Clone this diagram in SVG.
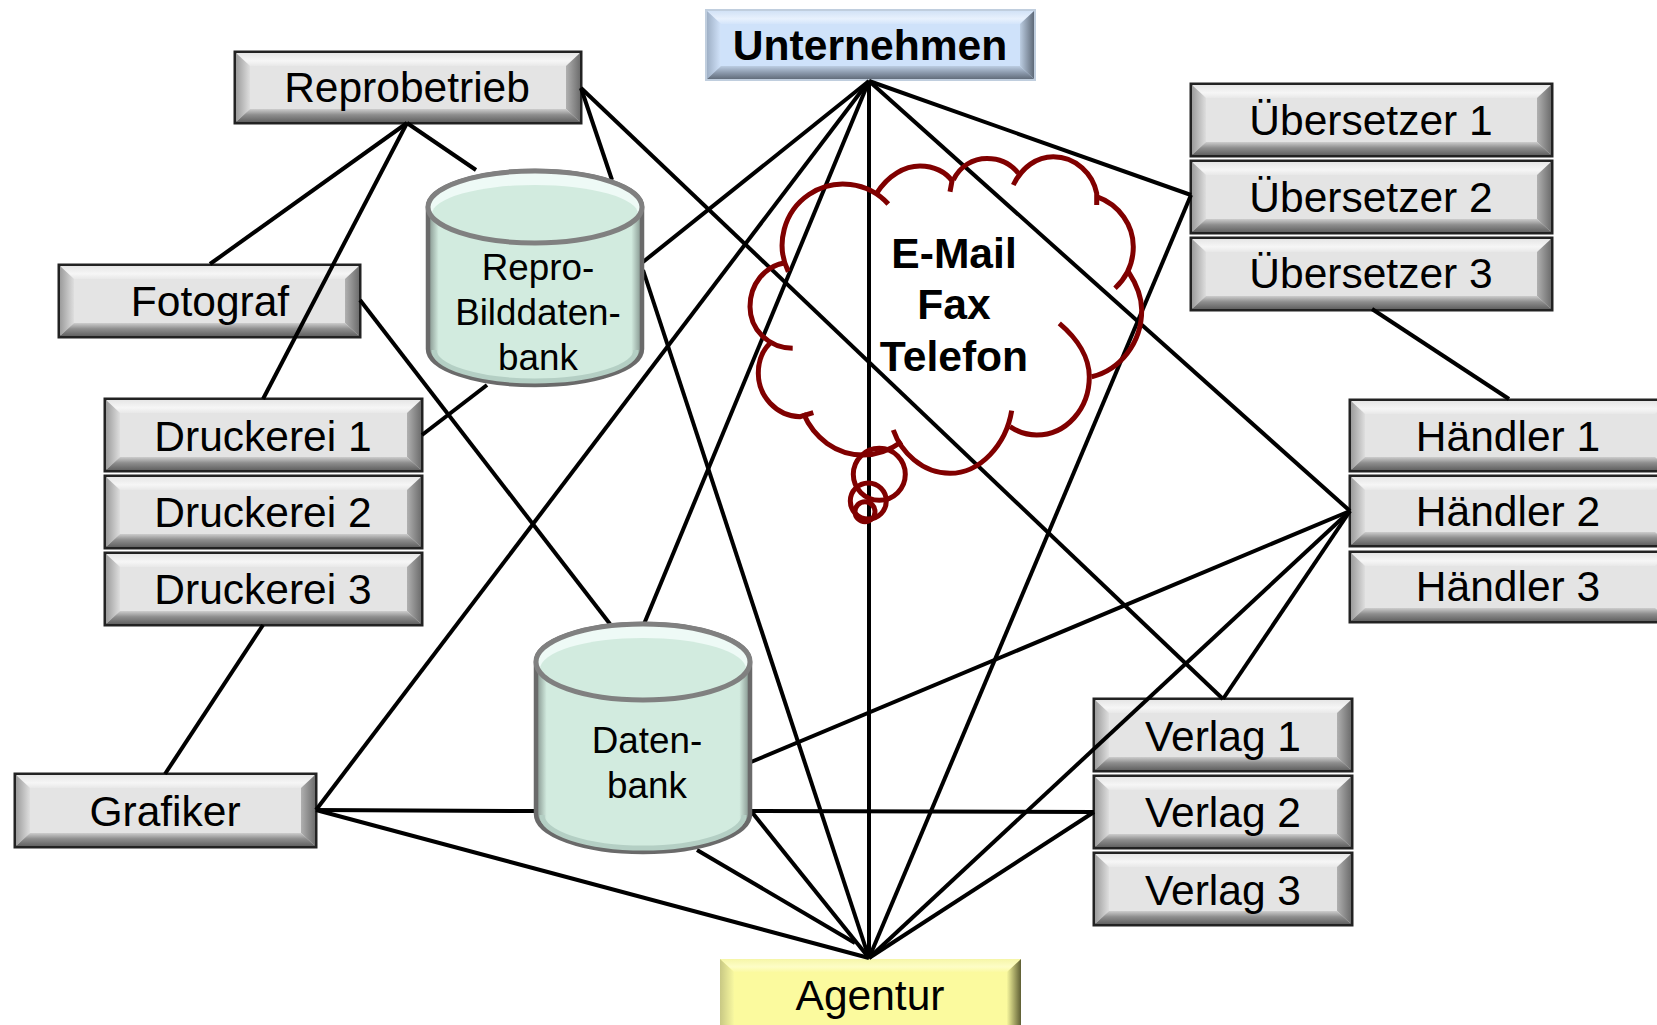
<svg xmlns="http://www.w3.org/2000/svg" width="1657" height="1025" viewBox="0 0 1657 1025">
<style>
text{font-family:"Liberation Sans",Arial,sans-serif;text-anchor:middle;fill:#000}
.t{font-size:42.5px}
.b{font-size:42.6px;font-weight:bold}
.c{font-size:36.8px}
.edge{stroke:#000;stroke-width:4;fill:none}
.cloud{stroke:#800000;stroke-width:5;fill:none}
.bd{stroke:#222;stroke-width:3;fill:#e4e4e4}
.g1{fill:url(#gt)}.g2{fill:url(#gl)}.g3{fill:url(#gr)}.g4{fill:url(#gb)}
.u0{fill:#cfe2fa;stroke:#c0cede;stroke-width:2}.u1{fill:url(#ut)}.u2{fill:url(#ul)}.u3{fill:url(#ur)}.u4{fill:url(#ub)}
.y0{fill:#fbfa9e}.y1{fill:url(#yt)}.y2{fill:url(#yl)}.y3{fill:url(#yr)}
.cy{fill:url(#cyl);stroke:#6a6a6a;stroke-width:4.5}
.ct{fill:#eefaf6}.cn{fill:#d2ebdf}.co{fill:none;stroke:#808080;stroke-width:5}
.cs{fill:none;stroke:#b4cfc4;stroke-width:5}
</style>
<defs>
<linearGradient id="gt" x1="0" x2="0" y1="0" y2="1"><stop offset="0" stop-color="#e6e6e6"/><stop offset=".6" stop-color="#f6f6f6"/><stop offset="1" stop-color="#e8e8e8"/></linearGradient>
<linearGradient id="gl" x1="0" x2="1" y1="0" y2="0"><stop offset="0" stop-color="#9c9c9c"/><stop offset="1" stop-color="#dedede"/></linearGradient>
<linearGradient id="gr" x1="0" x2="1" y1="0" y2="0"><stop offset="0" stop-color="#b0b0b0"/><stop offset="1" stop-color="#6e6e6e"/></linearGradient>
<linearGradient id="gb" x1="0" x2="0" y1="0" y2="1"><stop offset="0" stop-color="#cdcdcd"/><stop offset=".45" stop-color="#8e8e8e"/><stop offset="1" stop-color="#626262"/></linearGradient>
<linearGradient id="ut" x1="0" x2="0" y1="0" y2="1"><stop offset="0" stop-color="#d2e2f6"/><stop offset=".6" stop-color="#e8f1fd"/><stop offset="1" stop-color="#d4e5fb"/></linearGradient>
<linearGradient id="ul" x1="0" x2="1" y1="0" y2="0"><stop offset="0" stop-color="#9fb0c6"/><stop offset="1" stop-color="#d2e4fb"/></linearGradient>
<linearGradient id="ur" x1="0" x2="1" y1="0" y2="0"><stop offset="0" stop-color="#bccde2"/><stop offset="1" stop-color="#5f6a78"/></linearGradient>
<linearGradient id="ub" x1="0" x2="0" y1="0" y2="1"><stop offset="0" stop-color="#bccde2"/><stop offset=".5" stop-color="#8d9bae"/><stop offset="1" stop-color="#626d7b"/></linearGradient>
<linearGradient id="yt" x1="0" x2="0" y1="0" y2="1"><stop offset="0" stop-color="#f6f6a8"/><stop offset=".6" stop-color="#fdfdc6"/><stop offset="1" stop-color="#fbfaa2"/></linearGradient>
<linearGradient id="yl" x1="0" x2="1" y1="0" y2="0"><stop offset="0" stop-color="#c8c884"/><stop offset="1" stop-color="#f8f8a0"/></linearGradient>
<linearGradient id="yr" x1="0" x2="1" y1="0" y2="0"><stop offset="0" stop-color="#f6f69c"/><stop offset="1" stop-color="#5e5e34"/></linearGradient>
<linearGradient id="cyl" x1="0" x2="1" y1="0" y2="0"><stop offset="0" stop-color="#7f8e88"/><stop offset=".05" stop-color="#d2ebdf"/><stop offset=".95" stop-color="#d2ebdf"/><stop offset="1" stop-color="#7f8e88"/></linearGradient>
</defs>
<rect width="1657" height="1025" fill="#fff"/>

<g id="n-reprobetrieb"><rect class="bd" x="235" y="52" width="346" height="71"/><polygon class="g1" points="236,53 580,53 566,66 250,66"/><polygon class="g2" points="236,53 250,66 250,109 236,122"/><polygon class="g3" points="580,53 566,66 566,109 580,122"/><polygon class="g4" points="236,122 250,109 566,109 580,122"/><text class="t" x="407" y="102">Reprobetrieb</text></g>
<g id="n-unternehmen"><rect class="u0" x="706" y="10" width="329" height="70"/><polygon class="u1" points="707,11 1034,11 1020,24 721,24"/><polygon class="u2" points="707,11 721,24 721,66 707,79"/><polygon class="u3" points="1034,11 1020,24 1020,66 1034,79"/><polygon class="u4" points="707,79 721,66 1020,66 1034,79"/><text class="b" x="870" y="60">Unternehmen</text></g>
<g id="n-uebersetzer1"><rect class="bd" x="1191" y="84" width="361" height="72"/><polygon class="g1" points="1192,85 1551,85 1537,98 1206,98"/><polygon class="g2" points="1192,85 1206,98 1206,142 1192,155"/><polygon class="g3" points="1551,85 1537,98 1537,142 1551,155"/><polygon class="g4" points="1192,155 1206,142 1537,142 1551,155"/><text class="t" x="1371" y="135">Übersetzer 1</text></g>
<g id="n-uebersetzer2"><rect class="bd" x="1191" y="161" width="361" height="72"/><polygon class="g1" points="1192,162 1551,162 1537,175 1206,175"/><polygon class="g2" points="1192,162 1206,175 1206,219 1192,232"/><polygon class="g3" points="1551,162 1537,175 1537,219 1551,232"/><polygon class="g4" points="1192,232 1206,219 1537,219 1551,232"/><text class="t" x="1371" y="212">Übersetzer 2</text></g>
<g id="n-uebersetzer3"><rect class="bd" x="1191" y="238" width="361" height="72"/><polygon class="g1" points="1192,239 1551,239 1537,252 1206,252"/><polygon class="g2" points="1192,239 1206,252 1206,296 1192,309"/><polygon class="g3" points="1551,239 1537,252 1537,296 1551,309"/><polygon class="g4" points="1192,309 1206,296 1537,296 1551,309"/><text class="t" x="1371" y="288">Übersetzer 3</text></g>
<g id="n-fotograf"><rect class="bd" x="59" y="265" width="301" height="72"/><polygon class="g1" points="60,266 359,266 345,279 74,279"/><polygon class="g2" points="60,266 74,279 74,323 60,336"/><polygon class="g3" points="359,266 345,279 345,323 359,336"/><polygon class="g4" points="60,336 74,323 345,323 359,336"/><text class="t" x="210" y="316">Fotograf</text></g>
<g id="n-druckerei1"><rect class="bd" x="105" y="399" width="317" height="72"/><polygon class="g1" points="106,400 421,400 407,413 120,413"/><polygon class="g2" points="106,400 120,413 120,457 106,470"/><polygon class="g3" points="421,400 407,413 407,457 421,470"/><polygon class="g4" points="106,470 120,457 407,457 421,470"/><text class="t" x="263" y="451">Druckerei 1</text></g>
<g id="n-druckerei2"><rect class="bd" x="105" y="476" width="317" height="72"/><polygon class="g1" points="106,477 421,477 407,490 120,490"/><polygon class="g2" points="106,477 120,490 120,534 106,547"/><polygon class="g3" points="421,477 407,490 407,534 421,547"/><polygon class="g4" points="106,547 120,534 407,534 421,547"/><text class="t" x="263" y="527">Druckerei 2</text></g>
<g id="n-druckerei3"><rect class="bd" x="105" y="553" width="317" height="72"/><polygon class="g1" points="106,554 421,554 407,567 120,567"/><polygon class="g2" points="106,554 120,567 120,611 106,624"/><polygon class="g3" points="421,554 407,567 407,611 421,624"/><polygon class="g4" points="106,624 120,611 407,611 421,624"/><text class="t" x="263" y="604">Druckerei 3</text></g>
<g id="n-haendler1"><rect class="bd" x="1350" y="400" width="320" height="71"/><polygon class="g1" points="1351,401 1669,401 1655,414 1365,414"/><polygon class="g2" points="1351,401 1365,414 1365,457 1351,470"/><polygon class="g4" points="1351,470 1365,457 1655,457 1669,470"/><text class="t" x="1508" y="451">Händler 1</text></g>
<g id="n-haendler2"><rect class="bd" x="1350" y="476" width="320" height="70"/><polygon class="g1" points="1351,477 1669,477 1655,490 1365,490"/><polygon class="g2" points="1351,477 1365,490 1365,532 1351,545"/><polygon class="g4" points="1351,545 1365,532 1655,532 1669,545"/><text class="t" x="1508" y="526">Händler 2</text></g>
<g id="n-haendler3"><rect class="bd" x="1350" y="552" width="320" height="70"/><polygon class="g1" points="1351,553 1669,553 1655,566 1365,566"/><polygon class="g2" points="1351,553 1365,566 1365,608 1351,621"/><polygon class="g4" points="1351,621 1365,608 1655,608 1669,621"/><text class="t" x="1508" y="601">Händler 3</text></g>
<g id="n-verlag1"><rect class="bd" x="1094" y="699" width="258" height="72"/><polygon class="g1" points="1095,700 1351,700 1337,713 1109,713"/><polygon class="g2" points="1095,700 1109,713 1109,757 1095,770"/><polygon class="g3" points="1351,700 1337,713 1337,757 1351,770"/><polygon class="g4" points="1095,770 1109,757 1337,757 1351,770"/><text class="t" x="1223" y="751">Verlag 1</text></g>
<g id="n-verlag2"><rect class="bd" x="1094" y="776" width="258" height="72"/><polygon class="g1" points="1095,777 1351,777 1337,790 1109,790"/><polygon class="g2" points="1095,777 1109,790 1109,834 1095,847"/><polygon class="g3" points="1351,777 1337,790 1337,834 1351,847"/><polygon class="g4" points="1095,847 1109,834 1337,834 1351,847"/><text class="t" x="1223" y="827">Verlag 2</text></g>
<g id="n-verlag3"><rect class="bd" x="1094" y="853" width="258" height="72"/><polygon class="g1" points="1095,854 1351,854 1337,867 1109,867"/><polygon class="g2" points="1095,854 1109,867 1109,911 1095,924"/><polygon class="g3" points="1351,854 1337,867 1337,911 1351,924"/><polygon class="g4" points="1095,924 1109,911 1337,911 1351,924"/><text class="t" x="1223" y="905">Verlag 3</text></g>
<g id="n-grafiker"><rect class="bd" x="15" y="774" width="301" height="73"/><polygon class="g1" points="16,775 315,775 301,788 30,788"/><polygon class="g2" points="16,775 30,788 30,833 16,846"/><polygon class="g3" points="315,775 301,788 301,833 315,846"/><polygon class="g4" points="16,846 30,833 301,833 315,846"/><text class="t" x="165" y="826">Grafiker</text></g>
<g id="n-agentur"><rect class="y0" x="720" y="959" width="301" height="75"/><polygon class="y1" points="720,959 1021,959 1007,972 734,972"/><polygon class="y2" points="720,959 734,972 734,1025 720,1025"/><polygon class="y3" points="1021,959 1007,972 1007,1025 1021,1025"/><text class="t" x="870" y="1010">Agentur</text></g>

<g id="connectors" class="edge">
<path d="M869 81V958"/>
<path d="M643 262L869 81"/>
<path d="M316 810L869 81"/>
<path d="M644 624L869 81"/>
<path d="M1191 195L869 81"/>
<path d="M1350 511L869 81"/>
<path d="M407 123L210 264"/>
<path d="M407 123L263 399"/>
<path d="M407 123L476 170"/>
<path d="M581 88L612 180"/>
<path d="M581 88L1223 699"/>
<path d="M487 385L422 435"/>
<path d="M360 300L610 624"/>
<path d="M263 625L165 774"/>
<path d="M1372 309L1509 399"/>
<path d="M1350 511L1223 699"/>
<path d="M1350 511L751 762"/>
<path d="M1350 511L869 958"/>
<path d="M1094 812L751 811"/>
<path d="M1094 812L869 958"/>
<path d="M316 810L535 811"/>
<path d="M316 810L869 958"/>
<path d="M751 811L869 958"/>
<path d="M697 850L855 943"/>
<path d="M643 270L869 958"/>
<path d="M1191 195L869 958"/>
</g>

<g id="n-reprodb"><path class="cy" d="M428 207A107 36 0 0 1 642 207V349A107 36 0 0 1 428 349Z"/><path class="cs" d="M434 350A101 31 0 0 0 636 350"/><ellipse class="ct" cx="535" cy="207" rx="107" ry="36"/><ellipse class="cn" cx="535" cy="214" rx="103" ry="29"/><ellipse class="co" cx="535" cy="207" rx="107" ry="36"/><text class="c" x="538" y="280">Repro-</text><text class="c" x="538" y="325">Bilddaten-</text><text class="c" x="538" y="370">bank</text></g>
<g id="n-datenbank"><path class="cy" d="M536 662A107 38 0 0 1 750 662V814A107 38 0 0 1 536 814Z"/><path class="cs" d="M542 815A101 33 0 0 0 744 815"/><ellipse class="ct" cx="643" cy="662" rx="107" ry="38"/><ellipse class="cn" cx="643" cy="669" rx="103" ry="31"/><ellipse class="co" cx="643" cy="662" rx="107" ry="38"/><text class="c" x="647" y="753">Daten-</text><text class="c" x="647" y="798">bank</text></g>

<g id="n-cloud"><g class="cloud">
<path d="M888.3 204A61 61 0 0 0 788.3 271.7"/>
<path d="M876.7 193.3C888 175 905 166 920 166C934 166 946 172 952 181L950 191.7"/>
<path d="M953.3 180C960 166 973 158.5 987 158.5C1000 158.5 1011 164 1018.3 173.3"/>
<path d="M1013.3 185C1022 167 1037 156.7 1053.3 156.7C1076 156.7 1093 174 1096.7 193.3V205"/>
<path d="M1096.7 196.7C1120 205 1133.3 226 1133.3 246.7C1133.3 264 1126 278 1115 288.3"/>
<path d="M1128.3 271.7C1137 285 1141.7 297 1141.7 310C1141.7 343 1120 370 1091.7 376.7"/>
<path d="M1059.3 323.3C1078 339 1089.3 358 1089.3 376.7C1089.3 409 1066 435 1036.7 435C1027 435 1018 432 1010 426.7"/>
<path d="M1011.7 410.7C1006 445 980 473.3 950 473.3C922 473.3 901 452 893.3 430"/>
<path d="M901.7 441.7C890 450 877 455 863.3 455C836 455 814 438 803.3 413.3"/>
<path d="M813.3 412.7L800 416.7C776 416 758.3 396 758.3 373.3C758.3 361 762 351 770 343.3"/>
<path d="M792.7 348.3C768 348 750 329 750 306.7C750 284 765 266 785 262.7"/>
<circle cx="879.3" cy="474.3" r="26"/>
<circle cx="868.3" cy="501" r="18"/>
<circle cx="865" cy="511.7" r="10"/>
</g>
<text class="b" x="954" y="268">E-Mail</text><text class="b" x="954" y="319">Fax</text><text class="b" x="954" y="371">Telefon</text></g>
</svg>
